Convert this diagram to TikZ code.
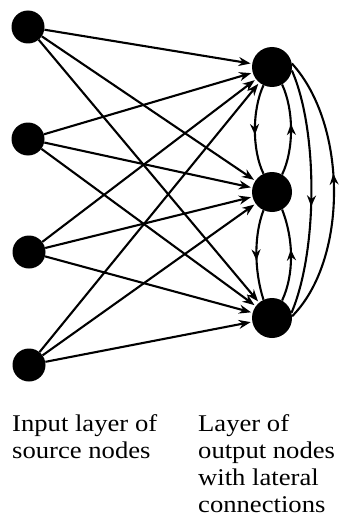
\documentclass[tikz,border=0pt]{standalone}
\usepackage{fontspec}
\setmainfont{Liberation Serif}[FakeStretch=1.11]
\usetikzlibrary{arrows.meta,decorations.markings}
\begin{document}
\begin{tikzpicture}[x=1pt,y=-1pt,
  inp/.style={circle,fill=black,inner sep=0pt,minimum size=33pt},
  outp/.style={circle,fill=black,inner sep=0pt,minimum size=40pt},
  conn/.style={line width=2.1pt,-{Stealth[length=12pt,width=9pt]},shorten >=1.5pt},
  lat/.style={line width=2.1pt,postaction={decorate},
    decoration={markings,mark=at position 0.56 with {\arrow{Stealth[length=11pt,width=9pt]}}}},
  lbl/.style={font=\fontsize{24}{27}\selectfont,align=left,inner sep=0pt,anchor=north west}]
\useasboundingbox (0,0) rectangle (343,516);
\node[inp] (i1) at (28,27) {};
\node[inp] (i2) at (28,139) {};
\node[inp] (i3) at (29,252) {};
\node[inp] (i4) at (29,365) {};
\node[outp] (o1) at (272,67) {};
\node[outp] (o2) at (272,192) {};
\node[outp] (o3) at (272,318) {};
\foreach \i in {1,...,4}{
  \foreach \j in {1,2,3}{
    \draw[conn] (i\i) -- (o\j);
  }
}
% lateral connections
\draw[lat] (o1.-115) .. controls (252,110) and (252,150) .. (o2.115);
\draw[lat] (o2.60) .. controls (294,150) and (294,110) .. (o1.-60);
\draw[lat] (o2.-115) .. controls (254,235) and (254,270) .. (o3.115);
\draw[lat] (o3.60) .. controls (294,275) and (294,240) .. (o2.-60);
\draw[lat] (o1.-10) .. controls (318,130) and (318,250) .. (o3.15);
\draw[lat] (o3.5) .. controls (348,260) and (348,125) .. (o1.10);
\node[lbl] (t1) at (12,414) {Input layer of\\source nodes};
\node[lbl] (t2) at (198,414) {Layer of\\output nodes\\with lateral\\connections};
\end{tikzpicture}
\end{document}
